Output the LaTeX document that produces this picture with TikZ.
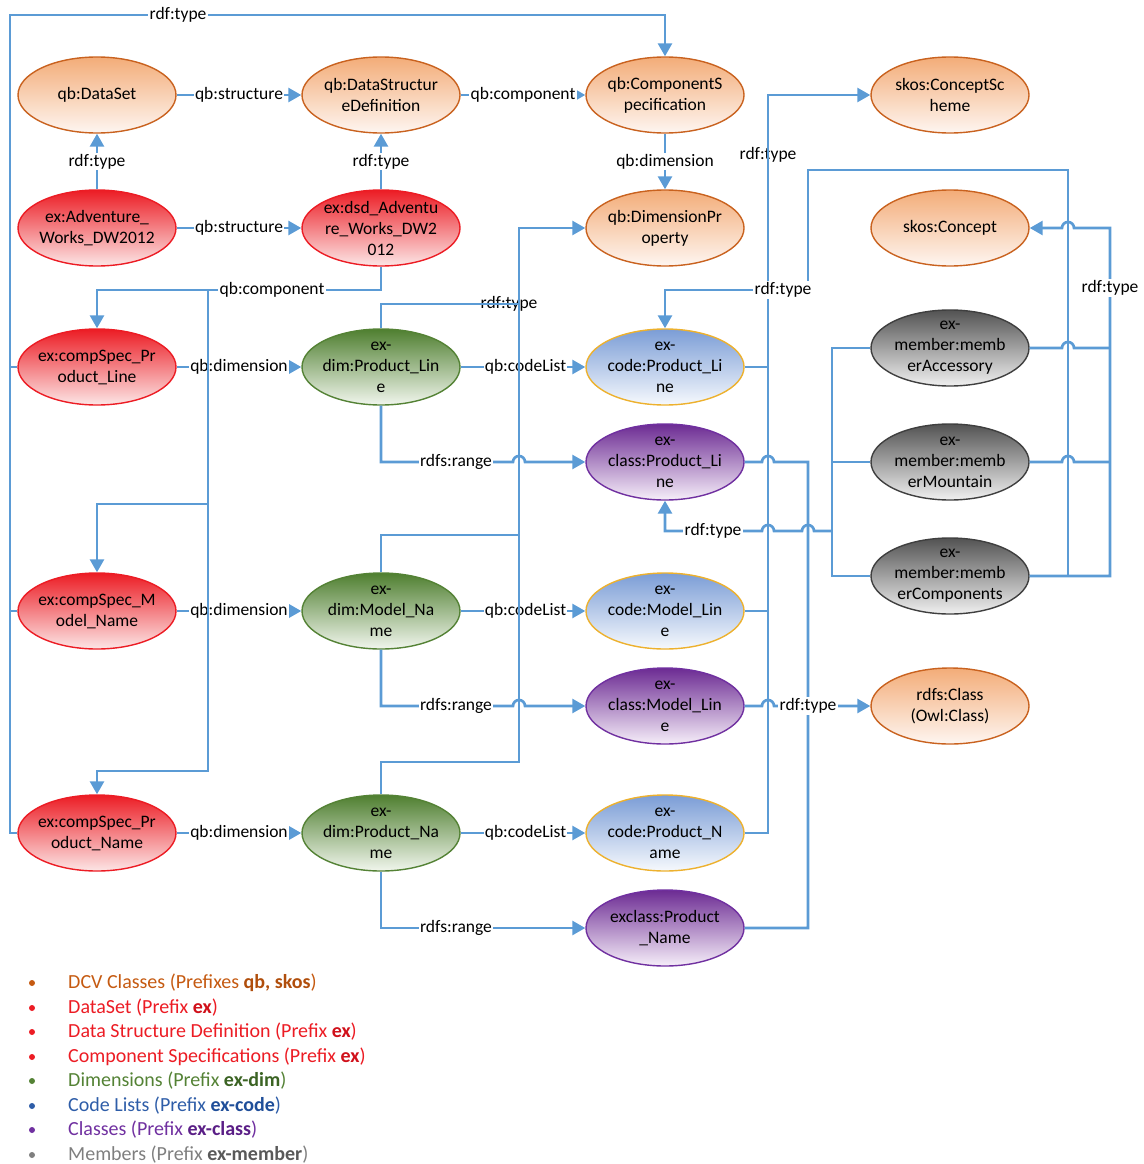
\documentclass[tikz,border=0pt]{standalone}
\usepackage{fontspec}
\setmainfont{Carlito}
\usetikzlibrary{arrows.meta,shapes.geometric}

% connector colour
\definecolor{wirec}{HTML}{5B9BD5}
% node fills and borders
\definecolor{dcvtop}{HTML}{F3AC78}\definecolor{dcvbot}{HTML}{FEF6F1}\definecolor{dcvline}{HTML}{C9621F}
\definecolor{redtop}{HTML}{EC1C24}\definecolor{redbot}{HTML}{FCE6E6}\definecolor{redline}{HTML}{EC1C24}
\definecolor{grntop}{HTML}{4F7F30}\definecolor{grnbot}{HTML}{F1F6ED}\definecolor{grnline}{HTML}{548235}
\definecolor{blutop}{HTML}{7B9DD6}\definecolor{blubot}{HTML}{F6F9FD}\definecolor{bluline}{HTML}{EDB12E}
\definecolor{purtop}{HTML}{6C2B93}\definecolor{purbot}{HTML}{F6EEF9}\definecolor{purline}{HTML}{7030A0}
\definecolor{gratop}{HTML}{535353}\definecolor{grabot}{HTML}{F0F0F0}\definecolor{graline}{HTML}{3F3F3F}
% legend colours
\definecolor{lgdcv}{HTML}{C55A11}\definecolor{lgdcvb}{HTML}{B04E0C}
\definecolor{lgred}{HTML}{EC1C24}\definecolor{lgredb}{HTML}{D0101A}
\definecolor{lggrn}{HTML}{548235}\definecolor{lggrnb}{HTML}{3B6323}
\definecolor{lgblu}{HTML}{2E5DA8}\definecolor{lgblub}{HTML}{1F4E99}
\definecolor{lgpur}{HTML}{7030A0}\definecolor{lgpurb}{HTML}{5A1E86}
\definecolor{lggra}{HTML}{7F7F7F}\definecolor{lggrab}{HTML}{595959}

\tikzset{
  oval/.style={ellipse, line width=1.4pt, minimum width=158pt, minimum height=76pt, inner sep=0pt},
  dcv/.style={oval, draw=dcvline, top color=dcvtop, bottom color=dcvbot},
  dset/.style={oval, draw=redline, top color=redtop, bottom color=redbot},
  dimn/.style={oval, draw=grnline, top color=grntop, bottom color=grnbot},
  codel/.style={oval, draw=bluline, top color=blutop, bottom color=blubot},
  clss/.style={oval, draw=purline, top color=purtop, bottom color=purbot},
  memb/.style={oval, draw=graline, top color=gratop, bottom color=grabot},
  otext/.style={align=center, inner sep=0pt, font=\fontsize{17.5}{21}\selectfont},
  wire/.style={draw=wirec, line width=2.7pt},
  arr/.style={-{Triangle[length=13pt,width=14pt]}},
  lbl/.style={fill=white, inner sep=1.2pt, font=\fontsize{17.5}{21}\selectfont},
  lgtext/.style={anchor=west, inner sep=0pt, font=\fontsize{20}{24}\selectfont},
}

% ellipse of fixed size with its text laid on top
\newcommand\ovalnode[4]{%
  \node[#1] (#2) at (#3) {};
  \node[otext] at (#2.center) {#4};}

\begin{document}
\begin{tikzpicture}[x=1pt,y=-1pt]
\useasboundingbox (0,0) rectangle (1143,1164);

% ---------- entities ----------
\ovalnode{dcv}{qbDS}{97,95}{qb:DataSet}
\ovalnode{dcv}{qbDSD}{381,95}{qb:DataStructur\\eDefinition}
\ovalnode{dcv}{qbCS}{665,95}{qb:ComponentS\\pecification}
\ovalnode{dcv}{skosCS}{950,95}{skos:ConceptSc\\heme}
\ovalnode{dset}{exAW}{97,228}{ex:Adventure\_\\Works\_DW2012}
\ovalnode{dset}{exDSD}{381,228}{ex:dsd\_Adventu\\re\_Works\_DW2\\012}
\ovalnode{dcv}{qbDP}{665,228}{qb:DimensionPr\\operty}
\ovalnode{dcv}{skosC}{950,228}{skos:Concept}
\ovalnode{dset}{csPL}{97,367}{ex:compSpec\_Pr\\oduct\_Line}
\ovalnode{dimn}{dimPL}{381,367}{ex-\\dim:Product\_Lin\\e}
\ovalnode{codel}{codePL}{665,367}{ex-\\code:Product\_Li\\ne}
\ovalnode{memb}{memAcc}{950,348}{ex-\\member:memb\\erAccessory}
\ovalnode{clss}{clsPL}{665,462}{ex-\\class:Product\_Li\\ne}
\ovalnode{memb}{memMnt}{950,462}{ex-\\member:memb\\erMountain}
\ovalnode{memb}{memCmp}{950,576}{ex-\\member:memb\\erComponents}
\ovalnode{dset}{csMN}{97,611}{ex:compSpec\_M\\odel\_Name}
\ovalnode{dimn}{dimMN}{381,611}{ex-\\dim:Model\_Na\\me}
\ovalnode{codel}{codeML}{665,611}{ex-\\code:Model\_Lin\\e}
\ovalnode{clss}{clsML}{665,706}{ex-\\class:Model\_Lin\\e}
\ovalnode{dcv}{rdfsC}{950,706}{rdfs:Class\\(Owl:Class)}
\ovalnode{dset}{csPN}{97,833}{ex:compSpec\_Pr\\oduct\_Name}
\ovalnode{dimn}{dimPN}{381,833}{ex-\\dim:Product\_Na\\me}
\ovalnode{codel}{codePN}{665,833}{ex-\\code:Product\_N\\ame}
\ovalnode{clss}{clsPN}{665,928}{exclass:Product\\\_Name}

% ---------- bus points ----------
\coordinate (topL) at (10,15);
\coordinate (cmpA) at (208,290);
\coordinate (cmpB) at (208,504);
\coordinate (dpBus) at (519,228);
\coordinate (csBus) at (768,95);
\coordinate (mwBus) at (832,531);
\coordinate (meBus) at (1110,228);
\coordinate (mcBus) at (1068,576);

% ---------- direct links ----------
\draw[wire,arr] (qbDS.east) -- (qbDSD.west) node[lbl,midway]{qb:structure};
\draw[wire,arr] (qbDSD.east) -- (qbCS.west) node[lbl,midway]{qb:component};
\draw[wire,arr] (exAW.north) -- (qbDS.south) node[lbl,midway]{rdf:type};
\draw[wire,arr] (exDSD.north) -- (qbDSD.south) node[lbl,midway]{rdf:type};
\draw[wire,arr] (exAW.east) -- (exDSD.west) node[lbl,midway]{qb:structure};
\draw[wire,arr] (qbCS.south) -- (qbDP.north) node[lbl,midway]{qb:dimension};

\draw[wire,arr] (csPL.east) -- (dimPL.west) node[lbl,midway]{qb:dimension};
\draw[wire,arr] (csMN.east) -- (dimMN.west) node[lbl,midway]{qb:dimension};
\draw[wire,arr] (csPN.east) -- (dimPN.west) node[lbl,midway]{qb:dimension};
\draw[wire,arr] (dimPL.east) -- (codePL.west) node[lbl,pos=0.52]{qb:codeList};
\draw[wire,arr] (dimMN.east) -- (codeML.west) node[lbl,pos=0.52]{qb:codeList};
\draw[wire,arr] (dimPN.east) -- (codePN.west) node[lbl,pos=0.52]{qb:codeList};

% rdfs:range, hopping over the x=519 bus
\draw[wire,arr] (dimPL.south) |- (513,462) arc[start angle=180,end angle=0,radius=6pt] -- (clsPL.west);
\node[lbl] at (456,462) {rdfs:range};
\draw[wire,arr] (dimMN.south) |- (513,706) arc[start angle=180,end angle=0,radius=6pt] -- (clsML.west);
\node[lbl] at (456,706) {rdfs:range};
\draw[wire,arr] (dimPN.south) |- (clsPN.west);
\node[lbl] at (456,928) {rdfs:range};

% labels lying under their bus lines
\node[lbl] at (768,155) {rdf:type};
\node[lbl] at (509,304) {rdf:type};

% dimensions -> qb:DimensionProperty
\draw[wire] (dimPL.north) |- (519,304);
\draw[wire] (dimMN.north) |- (519,535);
\draw[wire,arr] (dimPN.north) |- (519,762) -- (dpBus) -- (qbDP.west);

% code lists -> skos:ConceptScheme
\draw[wire] (codePL.east) -- (768,367);
\draw[wire] (codeML.east) -- (768,611);
\draw[wire,arr] (codePN.east) -| (csBus) -- (skosCS.west);

% component specifications -> qb:ComponentSpecification
\draw[wire] (csPL.west) -- (10,367);
\draw[wire] (csMN.west) -- (10,611);
\draw[wire,arr] (csPN.west) -| (topL) -| (qbCS.north);
\node[lbl] at (178,15) {rdf:type};

% dsd -> component specifications
\draw[wire,arr] (exDSD.south) |- (97,290) -- (csPL.north);
\node[lbl] at (272,290) {qb:component};
\draw[wire,arr] (cmpA) |- (97,504) -- (csMN.north);
\draw[wire,arr] (cmpB) |- (97,771) -- (csPN.north);

% members -> ex-class:Product_Line
\draw[wire] (memAcc.west) -- (832,348) -- (832,576) -- (memCmp.west);
\draw[wire] (memMnt.west) -- (832,462);
\draw[wire,arr] (mwBus) -- (814,531) arc[start angle=0,end angle=180,radius=6pt]
  -- (774,531) arc[start angle=0,end angle=180,radius=6pt] -- (665,531) -- (clsPL.south);
\node[lbl] at (713,531) {rdf:type};

% classes -> rdfs:Class
\draw[wire] (clsPL.east) -- (762,462) arc[start angle=180,end angle=0,radius=6pt] -- (808,462) -- (808,928) -- (clsPN.east);
\draw[wire,arr] (clsML.east) -- (762,706) arc[start angle=180,end angle=0,radius=6pt] -- (rdfsC.west);
\node[lbl] at (808,706) {rdf:type};

% members -> skos:Concept
\draw[wire,arr] (memCmp.east) -- (1110,576) -- (meBus) -- (1074,228) arc[start angle=0,end angle=180,radius=6pt] -- (skosC.east);
\draw[wire] (memAcc.east) -- (1062,348) arc[start angle=180,end angle=0,radius=6pt] -- (1110,348);
\draw[wire] (memMnt.east) -- (1062,462) arc[start angle=180,end angle=0,radius=6pt] -- (1110,462);
\node[lbl] at (1110,288) {rdf:type};

% members -> ex-code:Product_Line
\draw[wire,arr] (mcBus) -- (1068,170) -- (808,170) -- (808,290) -- (665,290) -- (codePL.north);
\node[lbl] at (783,290) {rdf:type};

% ---------- legend ----------
\fill[lgdcv] (32,983) circle (3pt);
\node[lgtext,text=lgdcv] at (68,983) {DCV Classes (Prefixes \textbf{\color{lgdcvb}qb, skos})};
\fill[lgred] (32,1008) circle (3pt);
\node[lgtext,text=lgred] at (68,1008) {DataSet (Prefix \textbf{\color{lgredb}ex})};
\fill[lgred] (32,1032) circle (3pt);
\node[lgtext,text=lgred] at (68,1032) {Data Structure Definition (Prefix \textbf{\color{lgredb}ex})};
\fill[lgred] (32,1057) circle (3pt);
\node[lgtext,text=lgred] at (68,1057) {Component Specifications (Prefix \textbf{\color{lgredb}ex})};
\fill[lggrn] (32,1081) circle (3pt);
\node[lgtext,text=lggrn] at (68,1081) {Dimensions (Prefix \textbf{\color{lggrnb}ex-dim})};
\fill[lgblu] (32,1106) circle (3pt);
\node[lgtext,text=lgblu] at (68,1106) {Code Lists (Prefix \textbf{\color{lgblub}ex-code})};
\fill[lgpur] (32,1130) circle (3pt);
\node[lgtext,text=lgpur] at (68,1130) {Classes (Prefix \textbf{\color{lgpurb}ex-class})};
\fill[lggra] (32,1155) circle (3pt);
\node[lgtext,text=lggra] at (68,1155) {Members (Prefix \textbf{\color{lggrab}ex-member})};
\end{tikzpicture}
\end{document}
